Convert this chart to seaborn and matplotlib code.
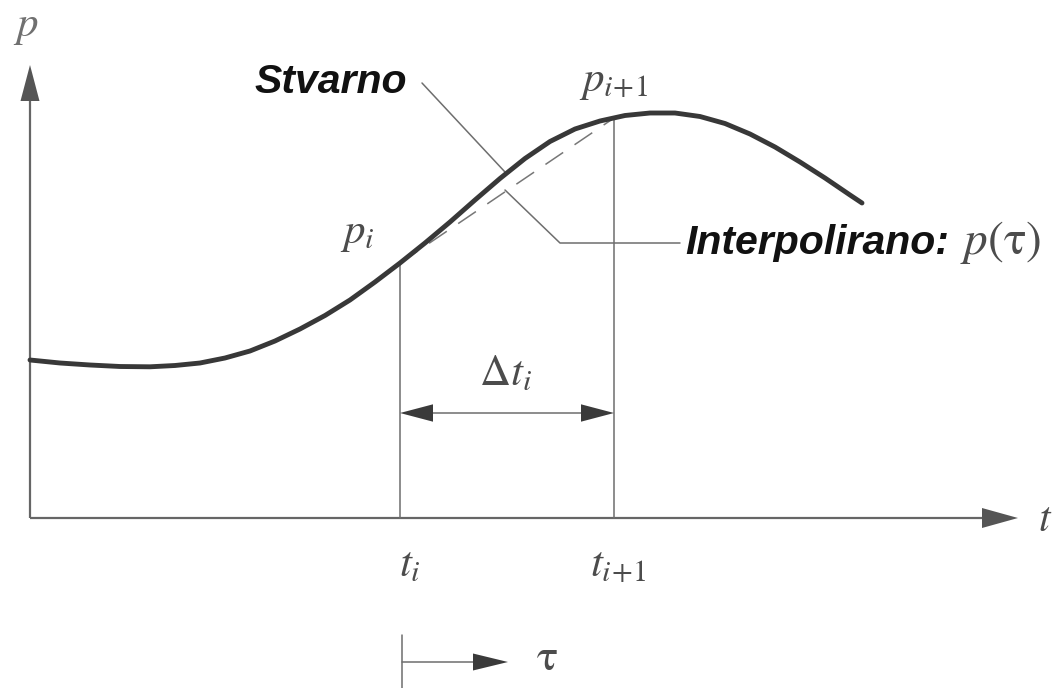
import numpy as np
import pandas as pd
import matplotlib
matplotlib.use("Agg")
import matplotlib.pyplot as plt
import seaborn as sns

# Actual (measured) signal p(t) – time on the horizontal axis, value upward
t_curve = [0, 30, 60, 90, 120, 145, 170, 195, 220, 245, 270, 295, 320, 345,
           370, 395, 420, 445, 470, 495, 520, 545, 570, 595, 620, 645, 670,
           695, 720, 745, 770, 795, 820, 832]
p_curve = [158, 155, 153, 151.5, 151.2, 152.5, 155, 160, 167, 177, 189,
           202.5, 218, 236, 255, 275, 296, 318, 339.5, 359.5, 376.5, 389,
           397, 402.5, 405, 405, 401.5, 394.5, 384, 371, 356, 340, 323, 315]

# Sampling instants t_i, t_{i+1} and sampled values p_i, p_{i+1}
t_samples = [370, 584]
p_samples = [255, 400]

AXIS_T_END = 988
AXIS_P_END = 453

sns.set_theme(style="white")
plt.rcParams["mathtext.fontset"] = "stix"
plt.rcParams["font.family"] = ["Liberation Sans", "DejaVu Sans"]

fig = plt.figure(figsize=(10.6, 6.88), dpi=100)
ax = fig.add_axes([0, 0, 1, 1])
ax.set_xlim(-30, 1030)
ax.set_ylim(-170, 518)
ax.axis("off")

axis_col = "#666666"
thin_col = "#6e6e6e"
curve_col = "#383838"
math_col = "#4c4c4c"


def head(tip, direction, length, half_w, color):
    tip = np.asarray(tip, float)
    d = np.asarray(direction, float)
    d = d / np.linalg.norm(d)
    n = np.array([-d[1], d[0]])
    base = tip - d * length
    pts = np.array([tip, base + n * half_w, base - n * half_w])
    ax.fill(pts[:, 0], pts[:, 1], color=color, lw=0, zorder=5)


# coordinate axes
ax.plot([0, AXIS_T_END - 35], [0, 0], color=axis_col, lw=1.6, solid_capstyle="butt")
ax.plot([0, 0], [0, AXIS_P_END - 35], color=axis_col, lw=1.6, solid_capstyle="butt")
head((AXIS_T_END, 0), (1, 0), 36, 10, "#555555")
head((0, AXIS_P_END), (0, 1), 36, 9.5, "#555555")

# sampling verticals
for ts, ps in zip(t_samples, p_samples):
    ax.plot([ts, ts], [0, ps], color=thin_col, lw=1.1)

# linear interpolation between the two samples (dashed chord)
chord = pd.DataFrame({"t": t_samples, "p": p_samples})
sns.lineplot(data=chord, x="t", y="p", ax=ax, color="#777777", lw=1.1,
             linestyle=(0, (14, 9)), zorder=2)

# the actual curve
curve = pd.DataFrame({"t": t_curve, "p": p_curve})
sns.lineplot(data=curve, x="t", y="p", ax=ax, color=curve_col, lw=3.5,
             sort=False, zorder=3, solid_joinstyle="round", solid_capstyle="round")

# Δt_i dimension arrow
dim_p = 105
ax.plot([t_samples[0] + 20, t_samples[1] - 20], [dim_p, dim_p], color=thin_col, lw=1.1)
head((t_samples[0], dim_p), (-1, 0), 33, 8.7, "#3a3a3a")
head((t_samples[1], dim_p), (1, 0), 33, 8.7, "#3a3a3a")
ax.text((t_samples[0] + t_samples[1]) / 2 - 2, 144, r"$\Delta t_i$", fontsize=31,
        color=math_col, ha="center", va="center")

# local time τ starting at t_i
tau_p = -144
ax.plot([t_samples[0] + 2, t_samples[0] + 2], [-117, -170], color=thin_col, lw=1.1)
ax.plot([t_samples[0] + 2, 460], [tau_p, tau_p], color=thin_col, lw=1.1)
head((478, tau_p), (1, 0), 35, 8.5, "#3a3a3a")
ax.text(517, tau_p + 4, r"$\mathrm{\tau}$", fontsize=32, color=math_col,
        ha="center", va="center")

# axis and sample labels
ax.text(-4, 491, r"$p$", fontsize=31, color="#707070", ha="center", va="center")
ax.text(1015, -2, r"$t$", fontsize=30, color=math_col, ha="center", va="center")
ax.text(327, 284, r"$p_i$", fontsize=31, color=math_col, ha="center", va="center")
ax.text(584, 436, r"$p_{i\!+\!1}$", fontsize=31, color=math_col, ha="center", va="center")
ax.text(t_samples[0] + 10, -47, r"$t_i$", fontsize=31, color=math_col,
        ha="center", va="center")
ax.text(t_samples[1] + 4, -47, r"$t_{i\!+\!1}$", fontsize=31, color=math_col,
        ha="center", va="center")

# leader lines
ax.plot([392, 475], [435, 346], color=thin_col, lw=1.1)
ax.plot([475, 530, 650], [328, 275, 275], color=thin_col, lw=1.1)

ax.text(377, 436, "Stvarno", fontsize=29.5, fontweight="bold", fontstyle="italic",
        color="#111111", ha="right", va="center")
ax.text(655, 275, "Interpolirano:", fontsize=29.5, fontweight="bold",
        fontstyle="italic", color="#111111", ha="left", va="center")
ax.text(930, 275, r"$p(\mathrm{\tau})$", fontsize=34, color=math_col,
        ha="left", va="center")

fig.savefig("out.png", dpi=100, facecolor="white")
